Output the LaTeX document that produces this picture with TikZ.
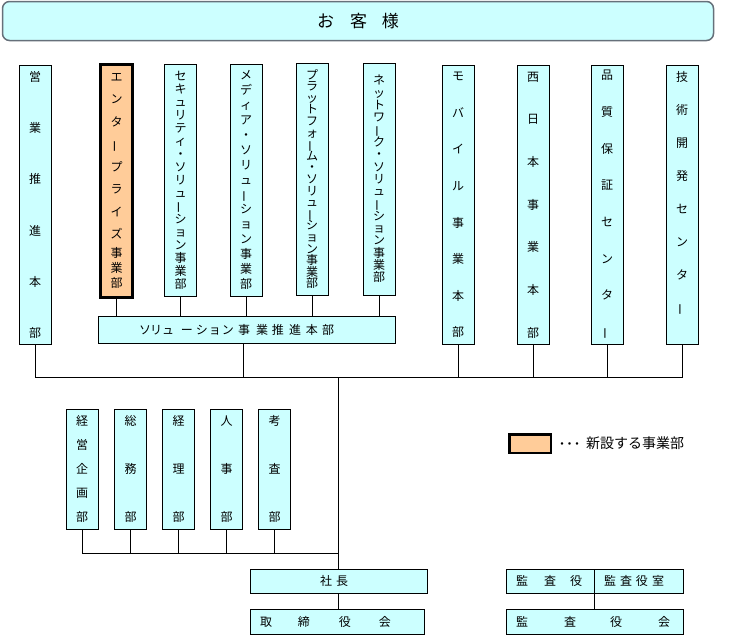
\documentclass[tikz,border=0pt]{standalone}
\usepackage{fontspec}
\setmainfont{Noto Sans CJK JP}
\definecolor{cy}{HTML}{CCFFFF}
\definecolor{org}{HTML}{FFCC99}
\definecolor{bgrey}{HTML}{66707A}
\newcommand\vcho{\rotatebox[origin=c]{90}{ー}}
\tikzset{
  box/.style={draw, fill=cy, line width=1pt, inner sep=0pt, minimum width=32pt},
  tallbox/.style={box, minimum height=279pt},
  midbox/.style={box, minimum height=232pt},
  smallbox/.style={box, minimum height=120pt},
  vtxt/.style={align=center, font={\fontsize{12pt}{#1}\selectfont\lineskiplimit=-50pt\relax}},
  hbox/.style={box, font=\fontsize{12pt}{14pt}\selectfont},
  conn/.style={line width=1pt}
}
\begin{document}
\begin{tikzpicture}[x=1pt,y=-1pt]
\useasboundingbox (0,0) rectangle (736,640);
% banner
\node[draw=bgrey, line width=1.5pt, fill=cy, rounded corners=7pt, minimum width=711pt, minimum height=39pt, inner sep=0pt, font=\fontsize{17pt}{19pt}\selectfont] (cust) at (358,21) {お\kern16pt客\kern15pt様};
% top row
\node[tallbox, vtxt=51.2pt] (eigyo) at (35,205) {営\\業\\推\\進\\本\\部};
\node[box, fill=org, line width=3pt, minimum height=233pt, vtxt=15pt] (entr) at (116.5,181) {エ\\[7.5pt]ン\\[7.5pt]タ\\[7.5pt]\vcho\\[7.5pt]プ\\[7.5pt]ラ\\[7.5pt]イ\\[7.5pt]ズ\\[4pt]事\\業\\部};
\node[midbox, vtxt=13pt] (sec) at (180.5,180) {セ\\キ\\ュ\\リ\\テ\\ィ\\・\\ソ\\リ\\ュ\\\vcho\\シ\\ョ\\ン\\事\\業\\部};
\node[midbox, vtxt=14.9pt] (media) at (246,180) {メ\\デ\\ィ\\ア\\・\\ソ\\リ\\ュ\\\vcho\\シ\\ョ\\ン\\事\\業\\部};
\node[midbox, vtxt=11.6pt] (plat) at (312,179) {プ\\ラ\\ッ\\ト\\フ\\ォ\\\vcho\\ム\\・\\ソ\\リ\\ュ\\\vcho\\シ\\ョ\\ン\\事\\業\\部};
\node[midbox, vtxt=12.3pt] (net) at (379,179) {ネ\\ッ\\ト\\ワ\\\vcho\\ク\\・\\ソ\\リ\\ュ\\\vcho\\シ\\ョ\\ン\\事\\業\\部};
\node[tallbox, vtxt=36.6pt] (mobile) at (458,205) {モ\\バ\\イ\\ル\\事\\業\\本\\部};
\node[tallbox, vtxt=42.7pt] (west) at (533,205) {西\\日\\本\\事\\業\\本\\部};
\node[tallbox, vtxt=36.7pt] (quality) at (607,205) {品\\質\\保\\証\\セ\\ン\\タ\\\vcho};
\node[tallbox, vtxt=32.9pt] (tech) at (682,205) {技\\術\\開\\発\\セ\\ン\\タ\\\vcho\\[-6.9pt]\mbox{}};
% solution bar
\node[hbox, minimum width=297pt, minimum height=27pt] (sol) at (247,330) {ソ\kern-1ptリ\kern0ptュ\kern7ptー\kern3ptシ\kern1ptョ\kern1ptン\kern4pt事\kern6pt業\kern4pt推\kern5pt進\kern5pt本\kern4pt部\hspace*{21pt}};
% staff departments
\node[smallbox, vtxt=24pt] (keiei) at (82,469) {経\\営\\企\\画\\部};
\node[smallbox, vtxt=48pt] (somu) at (130.5,469) {総\\務\\部};
\node[smallbox, vtxt=48pt] (keiri) at (178.5,469) {経\\理\\部};
\node[smallbox, vtxt=48pt] (jinji) at (226.5,469) {人\\事\\部};
\node[smallbox, vtxt=48pt] (kosa) at (274.5,469) {考\\査\\部};
% president / board
\node[hbox, minimum width=177pt, minimum height=24pt] (shacho) at (338.5,581) {社\kern4pt長\hspace*{9pt}};
\node[hbox, minimum width=174pt, minimum height=25pt] (tori) at (337,621.5) {取\kern26pt締\kern29pt役\kern28pt会\hspace*{23pt}};
% auditors
\node[hbox, minimum width=88pt, minimum height=24pt] (kansa) at (550,581) {監\kern16pt査\kern14pt役\hspace*{2pt}};
\node[hbox, minimum width=89pt, minimum height=24pt] (kansashitsu) at (638.5,581) {監\kern4pt査\kern4pt役\kern4pt室\hspace*{9pt}};
\node[hbox, minimum width=177pt, minimum height=25pt] (kansakai) at (594.5,621.5) {監\kern36pt査\kern34pt役\kern36pt会\hspace*{3pt}};
% legend
\node[draw, fill=org, line width=2.5pt, minimum width=41.5pt, minimum height=18.5pt, inner sep=0pt] (legbox) at (530,443.5) {};
\node[anchor=west, inner sep=0pt, font=\fontsize{12pt}{14pt}\selectfont] (legtext) at (556,443) {・\kern-4.5pt・\kern-4.5pt・\kern2.8pt{\fontsize{14pt}{16pt}\selectfont 新設する事業部}};
% connectors
\coordinate (hub) at (338,377);
\coordinate (hubb) at (338,553);
\draw[conn] (eigyo.south) -- (eigyo.south |- hub) -- (tech.south |- hub) -- (tech.south);
\foreach \n in {mobile,west,quality} \draw[conn] (\n.south) -- (\n.south |- hub);
\draw[conn] ([xshift=-4pt]sol.south) -- ([xshift=-4pt]sol.south |- hub);
\foreach \n in {entr,sec,media,plat,net} \draw[conn] (\n.south) -- (\n.south |- sol.north);
\draw[conn] (hub) -- (hub |- shacho.north);
\draw[conn] (keiei.south) -- (keiei.south |- hubb) -- (hubb);
\foreach \n in {somu,keiri,jinji,kosa} \draw[conn] (\n.south) -- (\n.south |- hubb);
\draw[conn] (hub |- shacho.south) -- (hub |- tori.north);
\draw[conn] (kansa.south east) -- (kansa.south east |- kansakai.north);
\end{tikzpicture}
\end{document}
